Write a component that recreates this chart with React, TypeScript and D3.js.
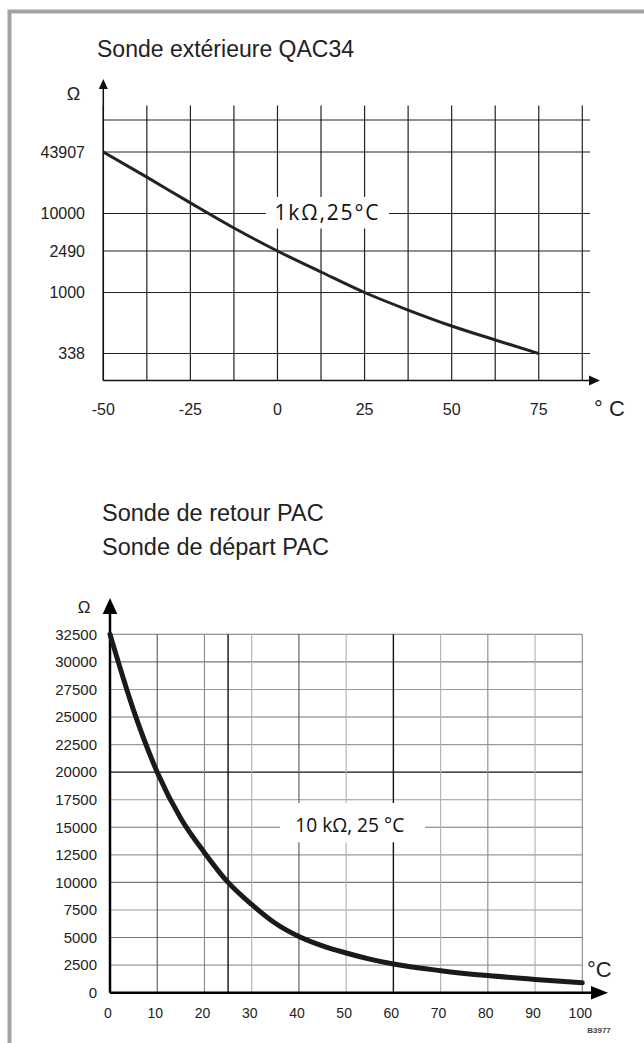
import React from 'react';
import * as d3 from 'd3';

const W = 644;
const H = 1043;

// ---------- Top chart (Sonde extérieure QAC34) ----------
const topTitle = 'Sonde extérieure QAC34';
const topTemps = [-50, -37.5, -25, -12.5, 0, 12.5, 25, 37.5, 50, 62.5, 75];
const topOhms = [43907, 24000, 12900, 5840, 2490, 1570, 1000, 732, 551, 430, 338];
const topYTicks = [43907, 10000, 2490, 1000, 338];
const topYRows = [338, 1000, 2490, 10000, 43907, 100000];
const topXTicks = [-50, -25, 0, 25, 50, 75];
const topAnnot = '1kΩ,25°C';

// ---------- Bottom chart (Sonde de retour / départ PAC) ----------
const botTitles = ['Sonde de retour PAC', 'Sonde de départ PAC'];
const botTemps = [0, 5, 10, 15, 20, 25, 30, 35, 40, 45, 50, 55, 60, 70, 80, 90, 100];
const botOhms = [32500, 25600, 20000, 15800, 12700, 10000, 8000, 6300, 5100, 4250, 3600, 3050, 2600, 2000, 1550, 1200, 900];
const botYTicks = [0, 2500, 5000, 7500, 10000, 12500, 15000, 17500, 20000, 22500, 25000, 27500, 30000, 32500];
const botXTicks = [0, 10, 20, 30, 40, 50, 60, 70, 80, 90, 100];
const botXGrid = [10, 20, 25, 30, 40, 50, 60, 70, 80, 90, 100];
const botAnnot = '10 kΩ, 25 °C';
const codeLabel = 'B3977';

const SANS = '"Liberation Sans", Arial, sans-serif';
const HUMAN = '"Open Sans", "Noto Sans", sans-serif';

export default function App() {
  // top layout
  const tL = 103.3, tR = 582.3, tB = 380.5, tT = 105.5;
  const tx = d3.scaleLinear().domain([-50, 87.5]).range([tL, tR]);
  const rowOffsets = [27, 88, 129.5, 167, 228.5, 260.5];
  const ty = d3.scaleLog().domain(topYRows).range(rowOffsets.map((o) => tB - o));
  const topGridX = d3.range(-50, 87.5 + 0.01, 12.5);
  const topLine = d3
    .line<number>()
    .x((_, i) => tx(topTemps[i]))
    .y((d) => ty(d))
    .curve(d3.curveMonotoneX);

  // bottom layout
  const bL = 110, bR = 582.3, bB = 992.7, bT = 634.3;
  const bx = d3.scaleLinear().domain([0, 100]).range([bL, bR]);
  const by = d3.scaleLinear().domain([0, 32500]).range([bB, bT]);
  const botLine = d3
    .line<number>()
    .x((_, i) => bx(botTemps[i]))
    .y((d) => by(d))
    .curve(d3.curveMonotoneX);

  const vColor = (v: number) => {
    if (v === 25 || v === 60) return '#111';
    if (v === 10 || v === 40) return '#555';
    if (v === 80 || v === 100 || v === 20) return '#888';
    return '#b0b0b0';
  };
  const hColor = (v: number) => {
    if (v === 20000) return '#111';
    if (v % 5000 === 0 || v === 32500) return '#777';
    return '#9a9a9a';
  };

  const tAx = tx(14.5), tAy = ty(10000);
  const bAx = bx(51.3), bAy = by(15000);

  return (
    <svg
      width={W}
      height={H}
      viewBox={`0 0 ${W} ${H}`}
      style={{ position: 'absolute', left: 0, top: 0, background: '#fff' }}
    >
      <rect x={0} y={0} width={W} height={H} fill="#fff" />
      {/* frame */}
      <rect x={9.5} y={11.5} width={W + 40} height={H + 40} fill="none" stroke="#a3a3a3" strokeWidth={4} />

      {/* ===== Top chart ===== */}
      <text x={97} y={57} fontFamily={SANS} fontSize={23} fill="#222">{topTitle}</text>
      <text x={73.5} y={100} fontFamily={SANS} fontSize={18} textAnchor="middle" fill="#222">Ω</text>

      {topGridX.map((v) => (
        <line key={'tv' + v} x1={tx(v)} x2={tx(v)} y1={tT} y2={tB} stroke="#222" strokeWidth={1.2} />
      ))}
      {topYRows.map((v) => (
        <line key={'th' + v} x1={tL} x2={590} y1={ty(v)} y2={ty(v)} stroke="#222" strokeWidth={1.2} />
      ))}
      {/* axes */}
      <line x1={tL} x2={tL} y1={tB} y2={88} stroke="#111" strokeWidth={1.5} />
      <polygon points={`${tL},79 ${tL - 4.5},89 ${tL + 4.5},89`} fill="#111" />
      <line x1={tL} x2={590} y1={tB} y2={tB} stroke="#111" strokeWidth={1.5} />
      <polygon points={`600,${tB} 589,${tB - 5} 589,${tB + 5}`} fill="#111" />

      {topYTicks.map((v) => (
        <text key={'tyl' + v} x={85} y={ty(v)} dy="0.35em" fontFamily={SANS} fontSize={16} textAnchor="end" fill="#222">
          {v}
        </text>
      ))}
      {topXTicks.map((v) => (
        <text key={'txl' + v} x={tx(v)} y={415} fontFamily={SANS} fontSize={16} textAnchor="middle" fill="#222">
          {v}
        </text>
      ))}
      <text x={594} y={416} fontFamily={SANS} fontSize={22} fill="#222">° C</text>

      <path d={topLine(topOhms) || ''} fill="none" stroke="#222" strokeWidth={3} />

      <rect x={tAx - 62} y={tAy - 16.6} width={123} height={31.6} fill="#fff" />
      <text
        x={tAx - 53.5}
        y={tAy + 6}
        fontFamily={HUMAN}
        fontSize={21}
        textLength={104}
        lengthAdjust="spacing"
        fill="#111"
      >
        {topAnnot}
      </text>

      {/* ===== Bottom chart ===== */}
      {botTitles.map((t, i) => (
        <text key={t} x={102} y={521 + i * 34} fontFamily={SANS} fontSize={23.5} fill="#222">
          {t}
        </text>
      ))}
      <text x={84} y={613} fontFamily={SANS} fontSize={17} textAnchor="middle" fill="#222">Ω</text>

      {botYTicks.filter((v) => v > 0).map((v) => (
        <line key={'bh' + v} x1={bL} x2={bR} y1={by(v)} y2={by(v)} stroke={hColor(v)} strokeWidth={v === 20000 ? 1.4 : 1.1} />
      ))}
      {botXGrid.map((v) => (
        <line key={'bv' + v} x1={bx(v)} x2={bx(v)} y1={bT} y2={bB} stroke={vColor(v)} strokeWidth={v === 25 || v === 60 ? 1.4 : 1.1} />
      ))}

      <rect x={bAx - 72.3} y={bAy - 24.3} width={145} height={39.3} fill="#fff" />
      <text
        x={bAx - 57}
        y={bAy + 5}
        fontFamily={HUMAN}
        fontSize={20}
        textLength={109}
        lengthAdjust="spacingAndGlyphs"
        fill="#111"
      >
        {botAnnot}
      </text>

      {/* axes */}
      <line x1={bL} x2={bL} y1={bB} y2={612} stroke="#000" strokeWidth={2.5} />
      <polygon points={`${bL},598 ${bL - 7.3},614 ${bL + 7.3},614`} fill="#000" />
      <line x1={bL} x2={593} y1={bB} y2={bB} stroke="#000" strokeWidth={2.5} />
      <polygon points={`608,${bB} 591,${bB - 6.7} 591,${bB + 6.7}`} fill="#000" />

      {botYTicks.map((v) => (
        <text key={'byl' + v} x={97} y={by(v)} dy="0.35em" fontFamily={SANS} fontSize={15} textAnchor="end" fill="#222">
          {v}
        </text>
      ))}
      {botXTicks.map((v) => (
        <text key={'bxl' + v} x={bx(v) - 2} y={1018} fontFamily={SANS} fontSize={14} textAnchor="middle" fill="#222">
          {v}
        </text>
      ))}
      <text x={587} y={977} fontFamily={SANS} fontSize={22} fill="#222">°C</text>
      <text x={599} y={1033} fontFamily={SANS} fontSize={8} fontWeight="bold" textAnchor="middle" fill="#444">
        {codeLabel}
      </text>

      <path d={botLine(botOhms) || ''} fill="none" stroke="#1a1a1a" strokeWidth={5} strokeLinecap="round" />
    </svg>
  );
}
